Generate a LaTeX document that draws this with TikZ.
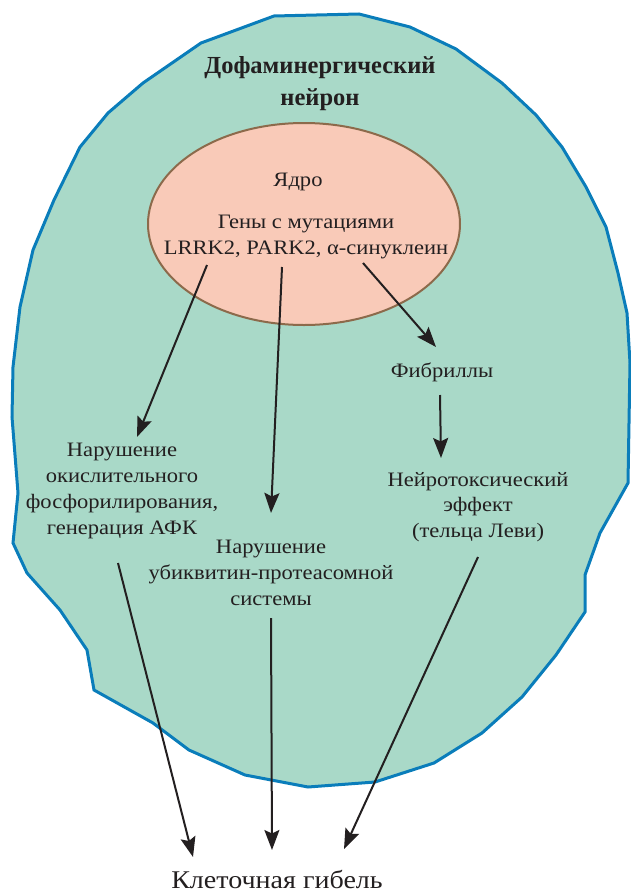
\documentclass[tikz,border=0pt]{standalone}
\usepackage{fontspec}
\setmainfont{Liberation Serif}[FakeStretch=1.1]
\newfontfamily\titlefont{Liberation Serif}
\usetikzlibrary{arrows.meta}
\definecolor{cellfill}{HTML}{A9D9C8}
\definecolor{cellline}{HTML}{0A7DBA}
\definecolor{nucfill}{HTML}{F9CAB8}
\definecolor{nucline}{HTML}{8C6A4B}
\definecolor{ink}{HTML}{231F20}
\begin{document}
\begin{tikzpicture}[x=1pt,y=-1pt,
  txt/.style={align=center, font=\fontsize{20.5}{25.8}\selectfont, text=ink, inner sep=0pt},
  arr/.style={draw=ink, line width=2pt, -{Stealth[length=20pt,width=15pt,inset=3.5pt]}}]
\useasboundingbox (0,0) rectangle (630,894);
% cell body
\filldraw[fill=cellfill, draw=cellline, line width=3pt, line join=miter]
 (201,43) -- (274,16) -- (359,14) -- (410,27) -- (456,49) -- (502,83) -- (536,115)
 -- (562,147) -- (586,187) -- (606,227) -- (618,273) -- (627,313) -- (630,363)
 -- (628,483) -- (600,533) -- (585,575) -- (585,612) -- (556,655) -- (522,697)
 -- (482,733) -- (434,763) -- (375,782) -- (308,787) -- (245,775) -- (189,750)
 -- (153,723) -- (94,690) -- (87,650) -- (60,610) -- (27,573) -- (13,543)
 -- (18,493) -- (12,417) -- (13,367) -- (20,307) -- (33,250) -- (54,200)
 -- (80,147) -- (108,113) -- (143,83) -- cycle;
% nucleus
\filldraw[fill=nucfill, draw=nucline, line width=2pt] (304,224) ellipse [x radius=156, y radius=101];
% texts
\node[txt, font=\titlefont\fontsize{24.5}{32}\selectfont\bfseries] (title) at (320,84) {Дофаминергический\\нейрон};
\node[txt] (nuc) at (298,182) {Ядро};
\node[txt] (genes) at (306,237) {Гены с мутациями\\LRRK2, PARK2, α-синуклеин};
\node[txt] (fib) at (442,372) {Фибриллы};
\node[txt] (oxph) at (122,491) {Нарушение\\окислительного\\фосфорилирования,\\генерация АФК};
\node[txt] (ups) at (271,573) {Нарушение\\убиквитин-протеасомной\\системы};
\node[txt] (ntox) at (478,507) {Нейротоксический\\эффект\\(тельца Леви)};
\node[txt, font=\fontsize{25.5}{30}\selectfont, anchor=base] (death) at (277,888) {Клеточная гибель};
% connector ends
\coordinate (s1) at (207,265); \coordinate (e1) at (137,437);
\coordinate (s2) at (282,267); \coordinate (e2) at (271,513);
\coordinate (s3) at (363,263); \coordinate (e3) at (436,347);
\coordinate (s4) at (440,395); \coordinate (e4) at (441,458);
\coordinate (s5) at (118,563); \coordinate (e5) at (193,857);
\coordinate (s6) at (271,618); \coordinate (e6) at (272,850);
\coordinate (s7) at (478,557); \coordinate (e7) at (344,849);
\draw[arr] (s1) -- (e1);
\draw[arr] (s2) -- (e2);
\draw[arr] (s3) -- (e3);
\draw[arr] (s4) -- (e4);
\draw[arr] (s5) -- (e5);
\draw[arr] (s6) -- (e6);
\draw[arr] (s7) -- (e7);
\end{tikzpicture}
\end{document}
